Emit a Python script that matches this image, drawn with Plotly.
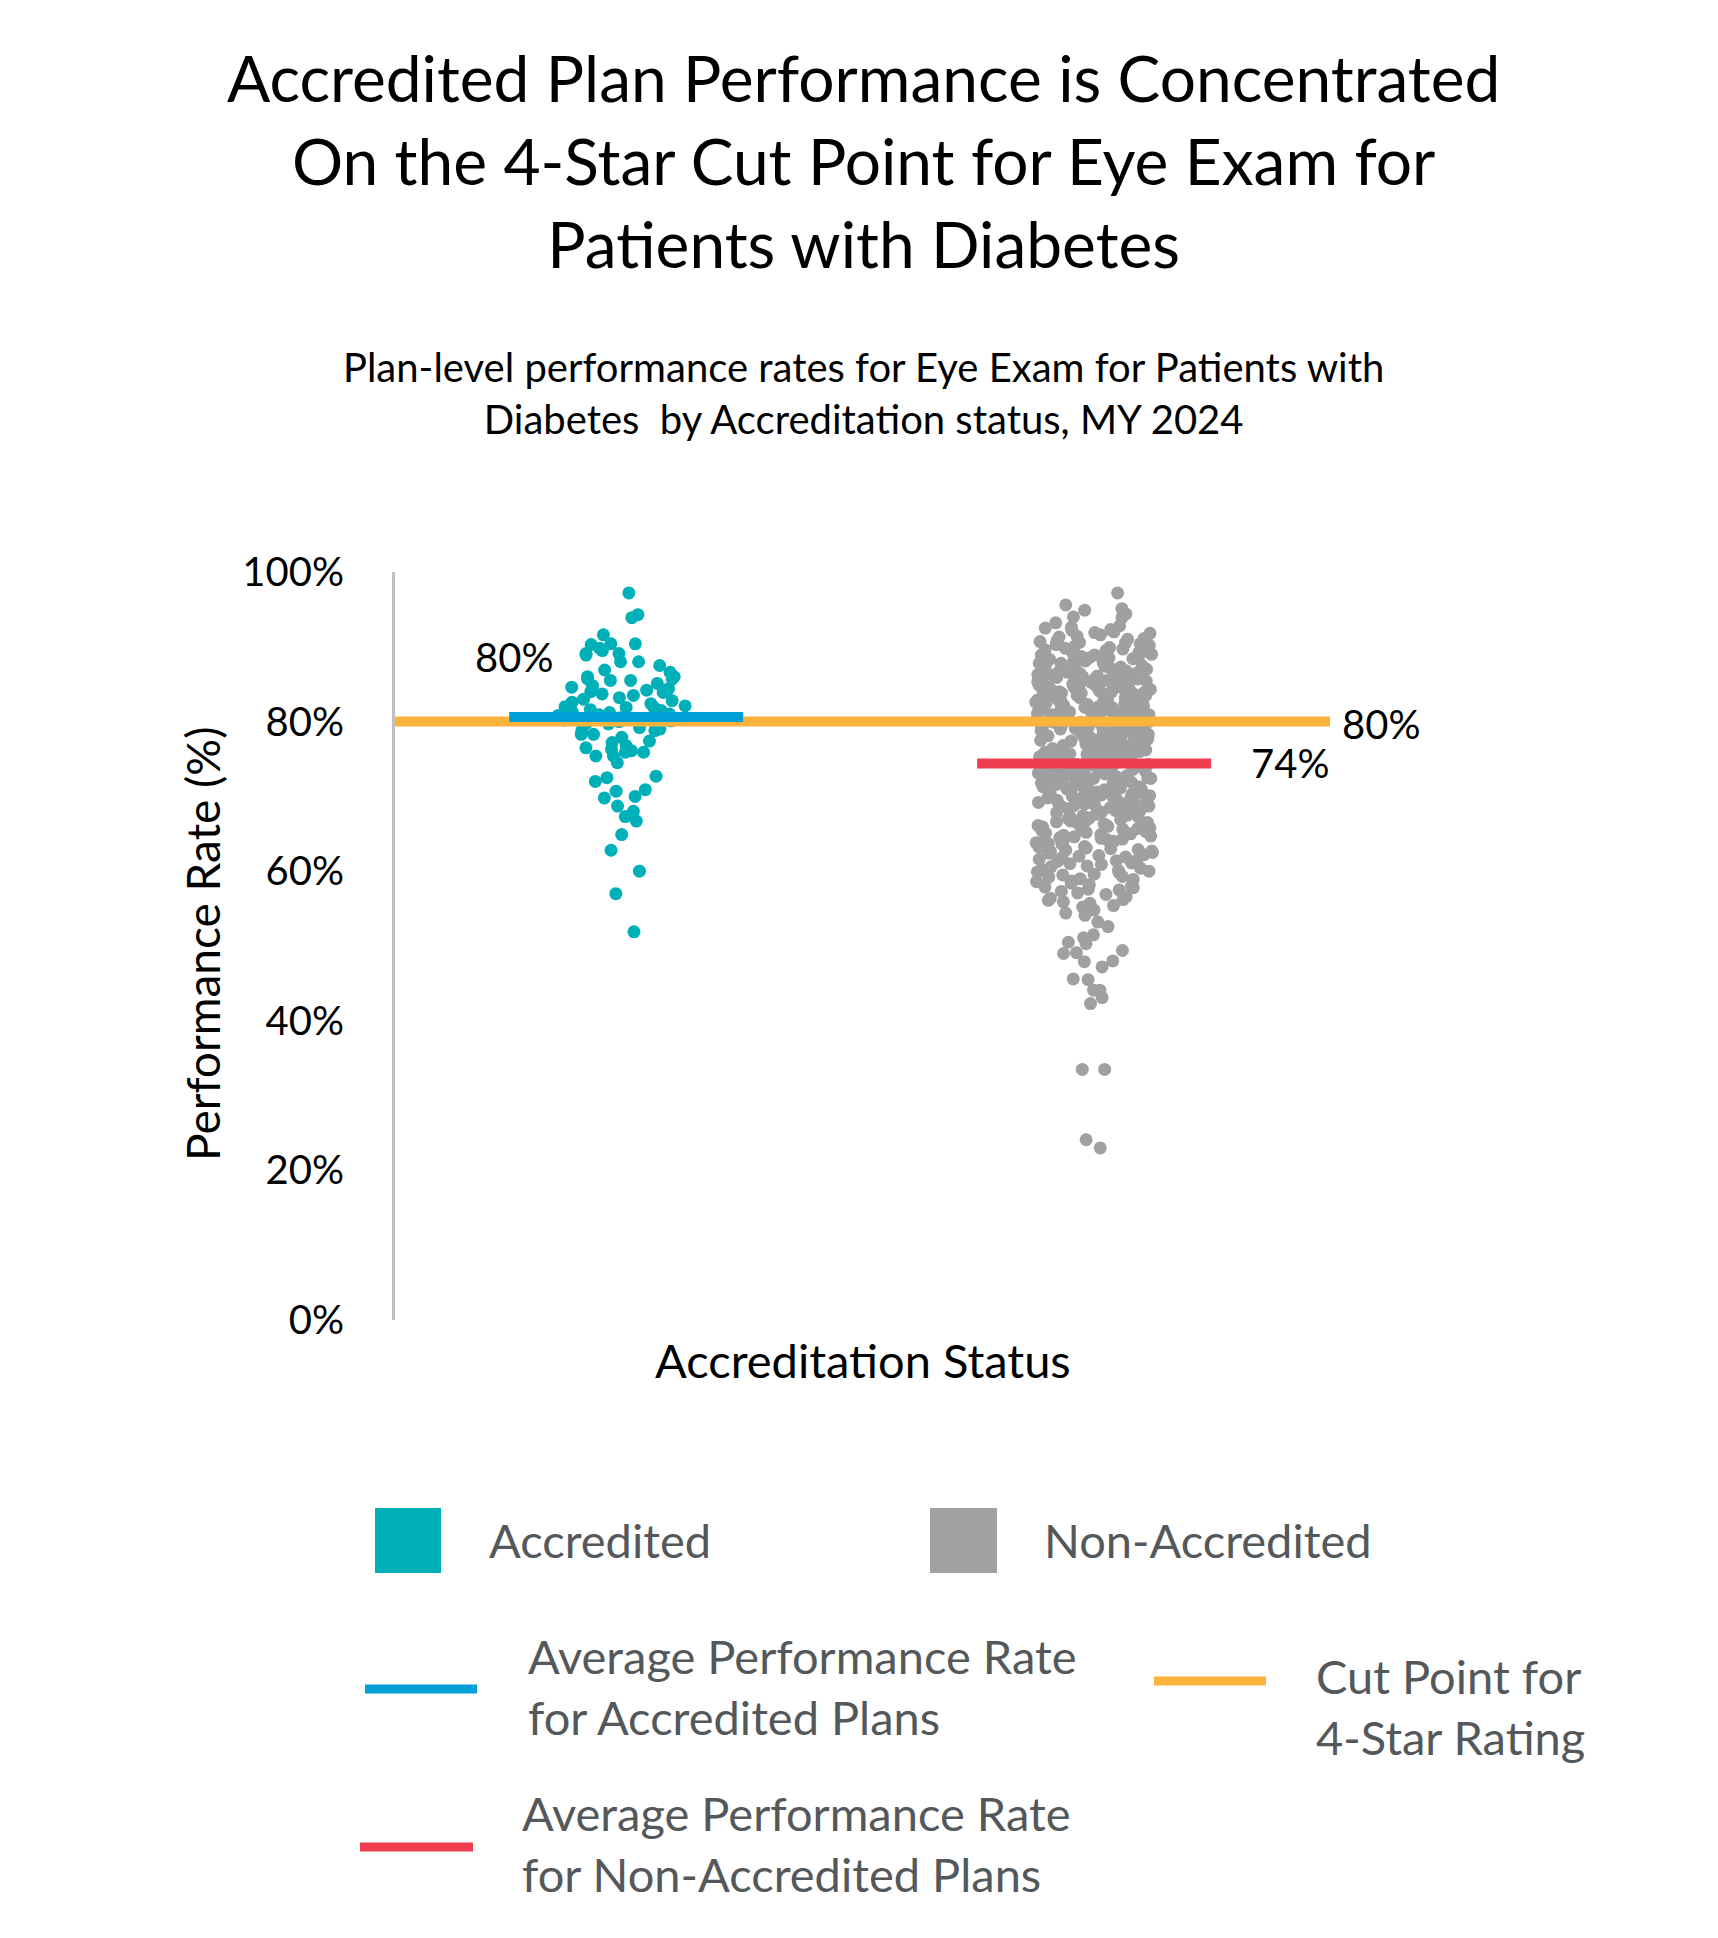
import plotly.graph_objects as go

# ---------------- DATA ----------------
groups = ["Accredited", "Non-Accredited"]

accredited_rates = [
    97.2, 94.3, 93.9, 91.6, 90.4, 90.4, 89.8, 89.1, 90.3, 89.5, 89.1, 88.0,
    88.9, 88.0, 87.5, 86.9, 86.6, 86.0, 86.0, 85.7, 85.5, 85.5, 85.7, 85.1,
    84.8, 84.6, 84.2, 84.4, 83.9, 83.7, 83.5, 83.0, 82.8, 82.6, 82.1, 81.9,
    81.9, 81.5, 81.2, 81.0, 80.9, 80.8, 80.5, 80.3, 80.1, 80.0, 79.9, 80.6,
    81.3, 80.2, 79.8, 81.6, 82.4, 83.2, 82.0, 84.0, 79.7, 79.2, 79.0, 78.8,
    78.8, 78.3, 78.3, 77.9, 77.2, 77.4, 76.8, 76.3, 76.1, 76.5, 75.9, 75.4,
    75.9, 75.4, 74.5, 72.7, 72.5, 72.0, 70.9, 70.7, 70.0, 69.8, 68.7, 68.0,
    67.3, 66.7, 64.9, 62.8, 60.0, 57.0, 51.9,
]

non_accredited_rates = [
    97.2, 95.6, 95.1, 94.9, 94.0, 94.4, 93.9, 93.2,
    92.5, 92.0, 92.2, 92.8, 92.3, 92.6,
    91.8, 91.6, 91.0, 91.3, 91.9, 91.4, 91.1,
    90.2, 90.7, 90.4, 90.9, 90.1, 90.5, 90.8, 90.3, 90.6,
    89.1, 89.5, 89.8, 89.3, 89.9, 89.0, 89.6, 89.2, 89.7, 89.4,
    88.2, 88.9, 88.5, 88.0, 88.7, 88.3, 88.6, 88.1, 88.8, 88.4, 88.5, 88.9,
    87.3, 87.8, 87.1, 87.6, 87.0, 87.9, 87.4, 87.2, 87.7, 87.5, 87.1, 87.8, 87.3, 87.6,
    86.4, 86.9, 86.1, 86.7, 86.2, 86.5, 86.0, 86.8, 86.3, 86.6, 86.9, 86.2, 86.4, 86.7, 86.0, 86.5,
    85.2, 85.8, 85.5, 85.0, 85.9, 85.3, 85.6, 85.1, 85.7, 85.4, 85.8, 85.2, 85.5, 85.9, 85.0, 85.6, 85.3,
    84.1, 84.7, 84.4, 84.9, 84.0, 84.6, 84.3, 84.8, 84.2, 84.5, 84.9, 84.1, 84.7, 84.3, 84.6, 84.0, 84.4,
    83.5, 83.0, 83.8, 83.2, 83.6, 83.9, 83.1, 83.4, 83.7, 83.3, 83.0, 83.8, 83.5, 83.2, 83.9, 83.6, 83.1,
    82.6, 82.1, 82.9, 82.3, 82.7, 82.0, 82.4, 82.8, 82.2, 82.5, 82.9, 82.1, 82.6, 82.3, 82.8, 82.0, 82.4,
    81.3, 81.8, 81.0, 81.5, 81.9, 81.2, 81.6, 81.1, 81.7, 81.4, 81.0, 81.8, 81.3, 81.6, 81.2, 81.9, 81.5,
    80.7, 80.2, 80.9, 80.4, 80.0, 80.6, 80.3, 80.8, 80.1, 80.5, 80.9, 80.2, 80.7, 80.4, 80.0, 80.6, 80.3,
    79.4, 79.9, 79.1, 79.6, 79.2, 79.8, 79.0, 79.5, 79.7, 79.3, 79.9, 79.1, 79.6, 79.4, 79.8, 79.2, 79.5,
    78.8, 78.3, 78.6, 78.0, 78.9, 78.4, 78.1, 78.7, 78.2, 78.5, 78.9, 78.3, 78.6, 78.0, 78.8, 78.4,
    77.5, 77.0, 77.8, 77.3, 77.9, 77.1, 77.6, 77.2, 77.7, 77.4, 77.0, 77.9, 77.5, 77.2, 77.8, 77.3,
    76.2, 76.7, 76.0, 76.9, 76.4, 76.1, 76.8, 76.5, 76.3, 76.6, 76.9, 76.2, 76.7, 76.0, 76.4, 76.8,
    75.6, 75.1, 75.9, 75.3, 75.7, 75.0, 75.4, 75.8, 75.2, 75.5, 75.9, 75.1, 75.6, 75.3, 75.7, 75.0,
    74.3, 74.8, 74.0, 74.6, 74.1, 74.9, 74.4, 74.7, 74.2, 74.5, 74.0, 74.8, 74.3, 74.6, 74.1,
    73.7, 73.2, 73.9, 73.0, 73.5, 73.8, 73.1, 73.6, 73.3, 73.4, 73.9, 73.2, 73.7, 73.0,
    72.4, 72.9, 72.1, 72.6, 72.0, 72.8, 72.3, 72.5, 72.7, 72.2, 72.9, 72.1, 72.6, 72.4,
    71.8, 71.3, 71.0, 71.6, 71.9, 71.2, 71.5, 71.7, 71.1, 71.4, 71.8, 71.3, 71.6,
    70.5, 70.0, 70.8, 70.3, 70.9, 70.1, 70.6, 70.4, 70.7, 70.2, 70.9, 70.0, 70.5,
    69.2, 69.7, 69.0, 69.5, 69.9, 69.3, 69.8, 69.1, 69.6, 69.4, 69.8, 69.2,
    68.6, 68.1, 68.9, 68.3, 68.7, 68.0, 68.5, 68.8, 68.2, 68.4, 68.9, 68.6,
    67.9, 67.4, 67.1, 67.7, 67.2, 67.6, 67.0, 67.8, 67.3, 67.5, 67.9,
    66.3, 66.8, 66.0, 66.6, 66.2, 66.9, 66.4, 66.7, 66.1, 66.5,
    65.7, 65.2, 65.9, 65.0, 65.5, 65.8, 65.3, 65.6, 65.1, 65.4,
    64.1, 64.6, 64.9, 64.3, 64.7, 64.0, 64.5, 64.8, 64.2, 64.4,
    63.8, 63.3, 63.0, 63.6, 63.9, 63.2, 63.5, 63.7, 63.1,
    62.4, 62.9, 62.1, 62.7, 62.0, 62.5, 62.8, 62.2, 62.6,
    61.5, 61.0, 61.8, 61.3, 61.9, 61.1, 61.6, 61.4,
    60.9, 60.4, 60.1, 60.7, 60.2, 60.6, 60.0,
    59.3, 59.8, 59.5, 59.0, 59.6, 59.2, 59.9,
    58.7, 58.2, 58.9, 58.4, 58.0, 58.6,
    57.1, 57.6, 57.3, 57.9, 57.5, 57.8,
    56.4, 56.9, 56.1, 56.6, 56.2,
    55.7, 55.2, 55.9, 55.4,
    54.4, 54.8, 54.1,
    53.2, 52.6, 51.1, 51.5, 50.5, 50.3,
    49.4, 49.1, 49.0, 48.0, 47.9, 47.2,
    45.6, 45.5, 44.1, 44.1, 43.1, 42.3,
    33.5, 33.5, 24.1, 23.0,
]

avg_accredited = 80.6
avg_non_accredited = 74.4
cut_point_4star = 80.0

avg_labels = ["80%", "74%"]
cut_label = "80%"

y_ticks = [0, 20, 40, 60, 80, 100]
y_tick_labels = ["0%", "20%", "40%", "60%", "80%", "100%"]

title_text = ("Accredited Plan Performance is Concentrated<br>"
              "On the 4-Star Cut Point for Eye Exam for<br>"
              "Patients with Diabetes")
subtitle_text = ("Plan-level performance rates for Eye Exam for Patients with<br>"
                 "Diabetes  by Accreditation status, MY 2024")

# ---------------- STYLE ----------------
OFF = 8                      # page body margin
W, H = 1718 - 2 * OFF, 1938 - 2 * OFF
L, R, T, B = 395 - OFF, 1330 - OFF, 572 - OFF, 1320 - OFF   # plot area (px)

TEAL = "#00b0b9"
GREY = "#9ea0a1"
BLUE = "#009fd7"
ORANGE = "#fbb33b"
RED = "#ee3e4e"
LEG_TXT = "#54585a"
FONT = "Lato"


def px_x(p):
    return (p - OFF - L) / (R - L)


def px_y(p):
    return (B - (p - OFF)) / (B - T)


positions = [1, 2]
half = 0.25
x_range = [0.506, 2.504]

fig = go.Figure()

# strip points using the library's jitter
for pos, vals, col, wid in [(positions[0], accredited_rates, TEAL, 0.32),
                            (positions[1], non_accredited_rates, GREY, 0.25)]:
    fig.add_trace(go.Box(
        y=vals, x0=pos, width=wid, boxpoints="all", jitter=1, pointpos=0,
        fillcolor="rgba(0,0,0,0)", line=dict(color="rgba(0,0,0,0)", width=0),
        whiskerwidth=0,
        marker=dict(color=col, size=13, line=dict(width=0)),
        hoverinfo="y", showlegend=False,
    ))

# cut point line (full width)
fig.add_trace(go.Scatter(
    x=x_range, y=[cut_point_4star, cut_point_4star], mode="lines",
    line=dict(color=ORANGE, width=10), showlegend=False, hoverinfo="skip",
))
# averages
fig.add_trace(go.Scatter(
    x=[positions[0] - half, positions[0] + half], y=[avg_accredited] * 2,
    mode="lines", line=dict(color=BLUE, width=10), showlegend=False,
    hoverinfo="skip",
))
fig.add_trace(go.Scatter(
    x=[positions[1] - half, positions[1] + half], y=[avg_non_accredited] * 2,
    mode="lines", line=dict(color=RED, width=10), showlegend=False,
    hoverinfo="skip",
))

annotations = []
# value labels
annotations.append(dict(x=positions[0] - half, y=avg_accredited, xref="x", yref="y",
                        text=avg_labels[0], showarrow=False, xanchor="right",
                        yanchor="middle", xshift=46, yshift=60,
                        font=dict(family=FONT, size=40, color="black")))
annotations.append(dict(x=positions[1] + half, y=avg_non_accredited, xref="x", yref="y",
                        text=avg_labels[1], showarrow=False, xanchor="left",
                        yanchor="middle", xshift=38, yshift=0,
                        font=dict(family=FONT, size=40, color="black")))
annotations.append(dict(x=1, y=cut_point_4star, xref="paper", yref="y",
                        text=cut_label, showarrow=False, xanchor="left",
                        yanchor="middle", xshift=10, yshift=-2,
                        font=dict(family=FONT, size=40, color="black")))

# titles
annotations.append(dict(x=px_x(863), y=px_y(161), xref="paper", yref="paper",
                        text=title_text, showarrow=False, xanchor="center",
                        yanchor="middle",
                        font=dict(family=FONT, size=64, color="black")))
annotations.append(dict(x=px_x(863), y=px_y(393), xref="paper", yref="paper",
                        text=subtitle_text, showarrow=False, xanchor="center",
                        yanchor="middle",
                        font=dict(family=FONT, size=40, color="black")))
# axis titles
annotations.append(dict(x=px_x(202), y=px_y(944), xref="paper", yref="paper",
                        text="Performance Rate (%)", showarrow=False, textangle=-90,
                        xanchor="center", yanchor="middle",
                        font=dict(family=FONT, size=46, color="black")))
annotations.append(dict(x=px_x(863), y=px_y(1360), xref="paper", yref="paper",
                        text="Accreditation Status", showarrow=False,
                        xanchor="center", yanchor="middle",
                        font=dict(family=FONT, size=47, color="black")))

# custom legend
shapes = []
shapes.append(dict(type="rect", xref="paper", yref="paper",
                   x0=px_x(375), x1=px_x(441), y0=px_y(1573), y1=px_y(1508),
                   fillcolor=TEAL, line=dict(width=0)))
shapes.append(dict(type="rect", xref="paper", yref="paper",
                   x0=px_x(930), x1=px_x(997), y0=px_y(1573), y1=px_y(1508),
                   fillcolor=GREY, line=dict(width=0)))
for x0, x1, yy, col in [(365, 477, 1689, BLUE), (1154, 1266, 1681, ORANGE),
                        (360, 473, 1847, RED)]:
    shapes.append(dict(type="line", xref="paper", yref="paper",
                       x0=px_x(x0), x1=px_x(x1), y0=px_y(yy), y1=px_y(yy),
                       line=dict(color=col, width=9)))

leg_items = [
    (487, 1540, "Accredited"),
    (1042, 1540, "Non-Accredited"),
    (526, 1686, "Average Performance Rate<br>for Accredited Plans"),
    (1314, 1706, "Cut Point for<br>4-Star Rating"),
    (520, 1843, "Average Performance Rate<br>for Non-Accredited Plans"),
]
for xx, yy, txt in leg_items:
    annotations.append(dict(x=px_x(xx), y=px_y(yy), xref="paper", yref="paper",
                            text=txt, showarrow=False, xanchor="left",
                            yanchor="middle", align="left",
                            font=dict(family=FONT, size=47, color=LEG_TXT)))

fig.update_layout(
    width=W, height=H, autosize=False,
    margin=dict(l=L, r=W - R, t=T, b=H - B, pad=0),
    paper_bgcolor="white", plot_bgcolor="white",
    boxmode="overlay",
    showlegend=False,
    xaxis=dict(range=x_range, showgrid=False, zeroline=False,
               showline=False, showticklabels=False, ticks="", fixedrange=True),
    yaxis=dict(range=[0, 100], tickvals=y_ticks, ticktext=y_tick_labels,
               showgrid=False, zeroline=False, showline=True,
               linecolor="#bfbfbf", linewidth=3, ticks="",
               tickfont=dict(family=FONT, size=40, color="black"),
               ticklabelstandoff=40),
    annotations=annotations,
    shapes=shapes,
)

fig.write_html("out.html")
